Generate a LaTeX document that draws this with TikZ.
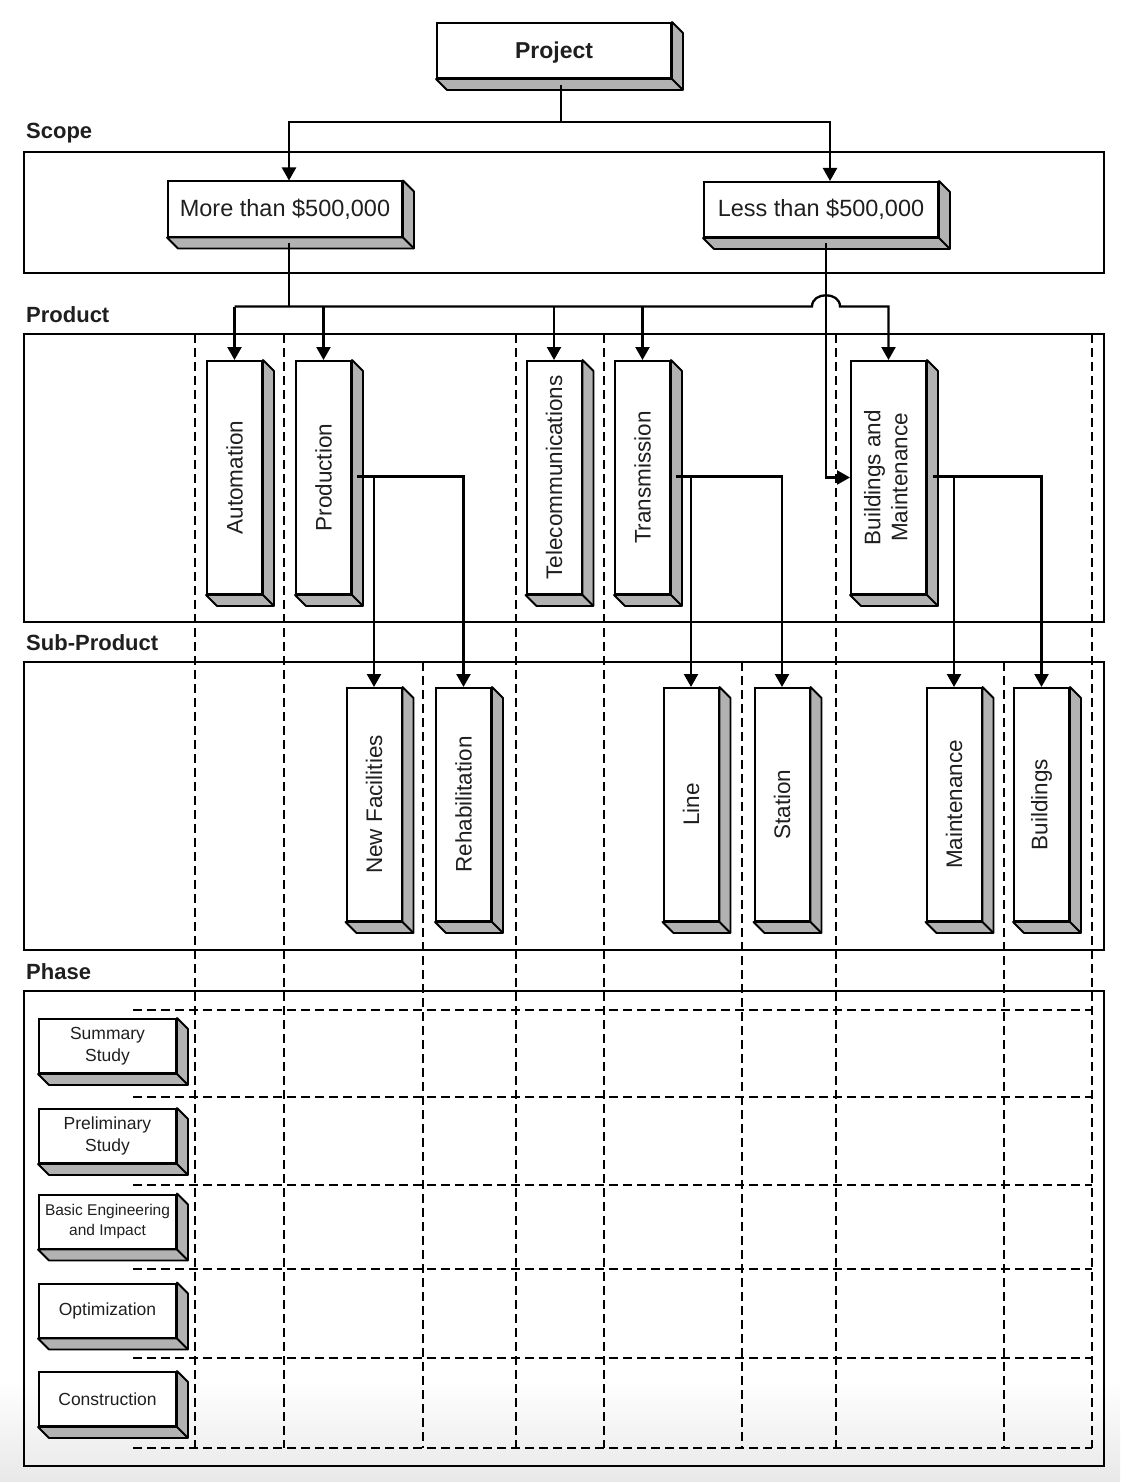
\documentclass[tikz,border=0pt]{standalone}
\usepackage{fontspec}
\setmainfont{Liberation Sans}
\usepackage{graphicx}
\usetikzlibrary{arrows.meta,calc}
\definecolor{shd}{gray}{0.70}
\definecolor{txt}{gray}{0.12}
\tikzset{
 ln/.style={line width=2.3pt, draw=black},
 arr/.style={-{Triangle[length=13pt,width=14pt]}},
 frm/.style={draw, line width=2.2pt},
 dsh/.style={line width=2.3pt, dash pattern=on 9pt off 5pt},
 bx/.style={draw, fill=white, line width=2pt, inner sep=0pt, text=txt},
 hbx/.style={bx, minimum width=234pt, minimum height=55pt, font=\fontsize{23.5}{28}\selectfont},
 vbx/.style={bx, minimum width=55pt, minimum height=233pt, font=\fontsize{22.5}{27}\selectfont},
 pbx/.style={bx, minimum width=137pt, minimum height=54pt, font=\fontsize{17.5}{22}\selectfont, align=center},
 sec/.style={anchor=west, inner sep=0pt, font=\bfseries\fontsize{22}{26}\selectfont, text=txt},
}
\newcommand\depthof[1]{%
 \filldraw[fill=shd, line width=1.8pt, line join=round] (#1.north east) -- ++(11,11) -- ($(#1.south east)+(11,11)$) -- ($(#1.south west)+(11,11)$) -- (#1.south west) -- (#1.south east) -- cycle;
 \draw[line width=1.8pt] (#1.south east) -- ++(11,11);}
\newcommand\vtxt[1]{\rotatebox{90}{#1}}
\begin{document}
\begin{tikzpicture}[x=1pt,y=-1pt]
\useasboundingbox (0,0) rectangle (1120,1482);
\fill[white] (0,0) rectangle (1120,1482);
\shade[top color=white, bottom color=black!9] (0,1380) rectangle (1120,1482);

% section labels
\node[sec] (lscope) at (26,133) {Scope};
\node[sec] (lprod) at (26,315) {Product};
\node[sec] (lsub) at (26,643) {Sub-Product};
\node[sec] (lphase) at (26,972) {Phase};

% frames
\draw[frm] (24,152) rectangle (1104,273);
\draw[frm] (24,334) rectangle (1104,622);
\draw[frm] (24,662) rectangle (1104,950);
\draw[frm] (24,991) rectangle (1104,1466);

% dashed grid
\foreach \x in {195,284,516,604,836,1092} \draw[dsh] (\x,334) -- (\x,1448);
\foreach \x in {423,742,1004} \draw[dsh] (\x,662) -- (\x,1448);
\foreach \y in {1010,1097,1185,1269,1358,1448} \draw[dsh] (133,\y) -- (1092,\y);

% boxes
\node[hbx, font=\bfseries\fontsize{23}{27}\selectfont, text depth=0pt] (project) at (554,50.5) {Project};
\node[hbx] (more) at (285,209) {More than \$500,000};
\node[hbx] (less) at (821,209.5) {Less than \$500,000};

\node[vbx] (auto) at (234.5,477.5) {\vtxt{Automation}};
\node[vbx] (prod) at (323.5,477.5) {\vtxt{Production}};
\node[vbx] (tele) at (554,477.5) {\vtxt{Telecommunications}};
\node[vbx] (trans) at (642.5,477.5) {\vtxt{Transmission}};
\node[vbx, minimum width=75pt] (bm) at (888.5,477.5) {\vtxt{\begin{tabular}{@{}c@{}}Buildings and\\Maintenance\end{tabular}}};

\node[vbx] (newf) at (374,804.5) {\vtxt{New Facilities}};
\node[vbx] (rehab) at (463.5,804.5) {\vtxt{Rehabilitation}};
\node[vbx] (line) at (691,804.5) {\vtxt{Line}};
\node[vbx] (station) at (782,804.5) {\vtxt{Station}};
\node[vbx] (maint) at (954,804.5) {\vtxt{Maintenance}};
\node[vbx] (build) at (1041.5,804.5) {\vtxt{Buildings}};

\node[pbx] (summ) at (107.5,1046) {Summary\\Study};
\node[pbx] (prel) at (107.5,1136) {Preliminary\\Study};
\node[pbx, font=\fontsize{15.5}{20}\selectfont] (basic) at (107.5,1221.5) {Basic Engineering\\and Impact};
\node[pbx] (opt) at (107.5,1310.5) {Optimization};
\node[pbx] (cons) at (107.5,1399) {Construction};

\foreach \n in {project,more,less,auto,prod,tele,trans,bm,newf,rehab,line,station,maint,build,summ,prel,basic,opt,cons} {\depthof{\n}}

% connectors
\coordinate (pj) at ($(project.south)+(7,6)$);
\coordinate (pjb) at (pj |- 0,122);
\draw[ln] (pj) -- (pjb);
\draw[ln,arr] (pjb) -| ($(more.north)+(4,0)$);
\draw[ln,arr] (pjb) -| ($(less.north)+(9,0)$);

\coordinate (mo) at ($(more.south)+(4,5)$);
\coordinate (busM) at ($(mo)+(0,64)$);
\draw[ln] (mo) -- (busM);
\coordinate (le) at ($(less.south)+(5,5)$);
\coordinate (jmpL) at ($(busM -| le)+(-14,0)$);
\coordinate (jmpR) at ($(busM -| le)+(14,0)$);
\draw[ln,arr] (auto.north |- busM) -- (jmpL) .. controls ($(jmpL)+(0,-15)$) and ($(jmpR)+(0,-15)$) .. (jmpR) -| (bm.north);
\foreach \n in {auto,prod,tele,trans} \draw[ln,arr] (\n.north |- busM) -- (\n.north);
\draw[ln,arr] (le) |- (bm.west);

\coordinate (pr) at ($(prod.east)+(5,-1)$);
\draw[ln,arr] (pr) -| (rehab.north);
\draw[ln,arr] (pr -| newf.north) -- (newf.north);

\coordinate (tr) at ($(trans.east)+(5,-1)$);
\draw[ln,arr] (tr) -| (station.north);
\draw[ln,arr] (tr -| line.north) -- (line.north);

\coordinate (bmr) at ($(bm.east)+(6,-1)$);
\draw[ln,arr] (bmr) -| (build.north);
\draw[ln,arr] (bmr -| maint.north) -- (maint.north);
\end{tikzpicture}
\end{document}
